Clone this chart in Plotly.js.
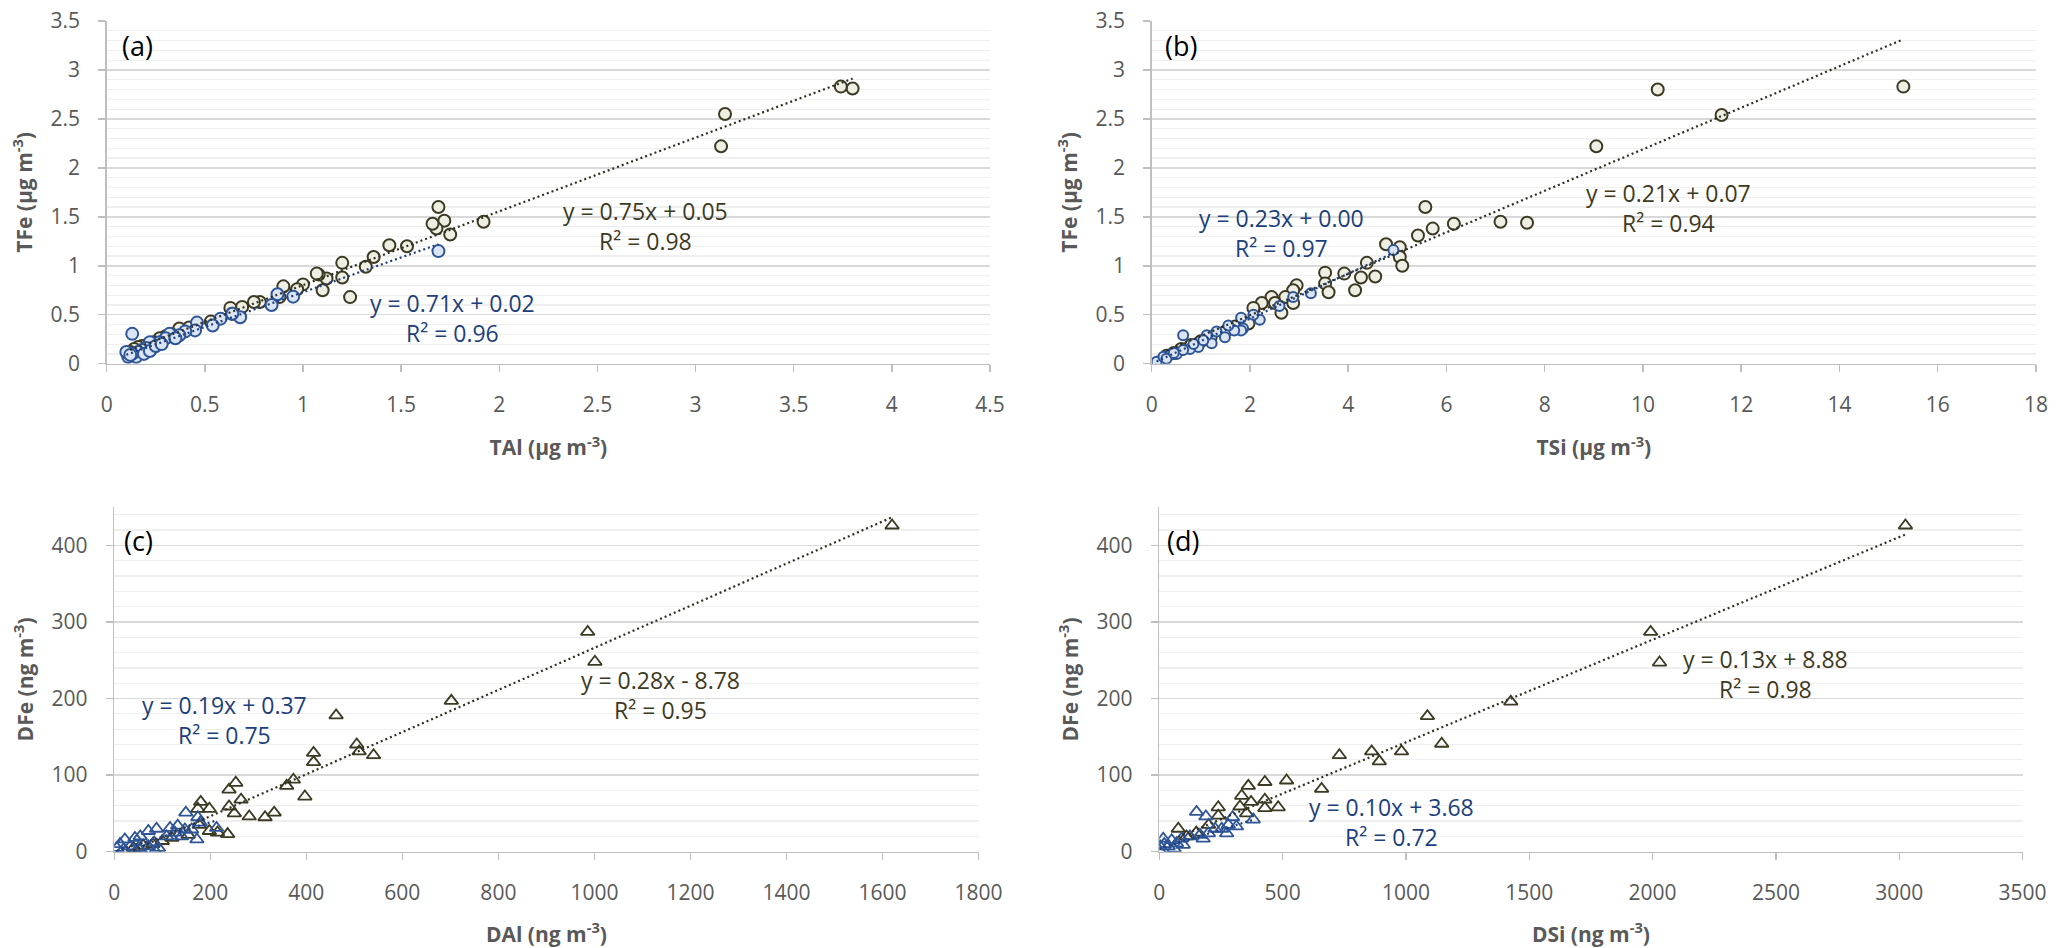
<!DOCTYPE html>
<html>
<head>
<meta charset="utf-8">
<script src="https://cdn.plot.ly/plotly-3.0.1.min.js"></script>
<style>html,body{margin:0;padding:0;background:#fff;}#chart{width:2067px;height:948px;}</style>
</head>
<body>
<div id="chart"></div>
<script>
// ---------- Data ----------
// Panel (a): TAl vs TFe (µg m-3)
const aBeigeX = [3.80,3.74,3.15,3.13,1.92,1.75,1.72,1.69,1.68,1.66,1.53,1.44,1.36,1.32,1.24,1.20,1.20,1.12,1.10,1.08,1.07,1.00,0.97,0.90,0.88,0.78,0.75,0.69,0.63,0.64,0.53,0.45,0.42,0.37,0.33,0.30,0.27,0.24,0.21,0.18,0.16,0.14,0.12];
const aBeigeY = [2.81,2.83,2.55,2.22,1.45,1.32,1.46,1.60,1.38,1.43,1.20,1.21,1.09,0.99,0.68,1.03,0.88,0.87,0.75,0.91,0.92,0.81,0.76,0.79,0.68,0.63,0.63,0.58,0.57,0.51,0.43,0.38,0.37,0.36,0.30,0.28,0.26,0.22,0.20,0.18,0.17,0.15,0.12];
const aBlueX = [1.69,0.95,0.87,0.84,0.68,0.64,0.58,0.54,0.46,0.45,0.40,0.37,0.32,0.30,0.27,0.24,0.22,0.20,0.18,0.16,0.13,0.15,0.13,0.11,0.10,0.12,0.19,0.22,0.25,0.28,0.35];
const aBlueY = [1.15,0.685,0.71,0.60,0.475,0.51,0.46,0.39,0.42,0.34,0.33,0.29,0.305,0.26,0.22,0.17,0.22,0.16,0.14,0.12,0.305,0.07,0.10,0.07,0.12,0.09,0.10,0.13,0.18,0.20,0.26];

// Panel (b): TSi vs TFe (µg m-3)
const bBeigeX = [15.3,10.3,11.6,9.05,5.57,7.1,7.64,6.15,5.72,5.42,4.77,5.05,5.05,5.1,4.38,3.92,3.53,4.26,4.55,3.53,3.6,4.14,2.95,2.88,2.72,2.88,2.44,2.51,2.64,2.24,2.07,1.97,1.7,1.5,1.2,1.0,0.8,0.6,0.45,0.3];
const bBeigeY = [2.83,2.80,2.54,2.22,1.60,1.45,1.44,1.43,1.38,1.31,1.22,1.19,1.09,1.00,1.03,0.92,0.93,0.88,0.89,0.82,0.73,0.75,0.80,0.75,0.68,0.62,0.68,0.62,0.52,0.62,0.57,0.41,0.38,0.33,0.27,0.23,0.19,0.15,0.11,0.08];
const bBlueX = [4.92,3.24,2.88,2.6,2.2,2.07,1.82,1.86,1.82,1.68,1.56,1.49,1.32,1.22,1.12,0.64,0.95,0.78,0.51,0.37,0.17,0.10,0.24,0.64,0.30,0.45,0.85,1.05];
const bBlueY = [1.16,0.72,0.68,0.59,0.45,0.50,0.47,0.36,0.34,0.34,0.39,0.27,0.33,0.21,0.29,0.29,0.17,0.15,0.10,0.09,0.03,0.02,0.07,0.14,0.05,0.11,0.20,0.24];

// Panel (c): DAl vs DFe (ng m-3)
const cBeigeX = [1620,986,1001,702,462,505,510,540,415,415,373,359,397,253,239,264,239,250,281,314,333,180,198,174,236,215,198,177,154,120,100,80,60,40];
const cBeigeY = [426,287,248,197,178,140,131,126,129,117,94,86,72,90,81,68,59,50,46,45,51,65,56,56,23,25,27,35,22,18,14,10,8,5];
const cBlueX = [149,174,179,213,172,132,116,88,71,54,43,22,12,5,33,50,71,92,83,109,126,147,161,140,54,19,85];
const cBlueY = [51,45,38,31,16,34,31,30,27,20,18,16,10,5,7,5,7,5,12,20,25,29,29,20,3,3,1];

// Panel (d): DSi vs DFe (ng m-3)
const dBeigeX = [3025,1992,2028,1425,1087,1145,982,861,892,730,658,516,428,361,334,428,372,482,428,327,354,239,239,77,150,200,110];
const dBeigeY = [426,287,247,196,177,141,131,131,118,126,82,93,91,86,73,68,65,58,57,59,50,58,47,30,25,35,20];
const dBlueX = [151,189,297,381,280,313,253,226,199,165,124,90,50,16,3,36,70,97,178,273,0,20,60];
const dBlueY = [52,46,45,42,35,33,30,30,24,22,20,17,15,17,7,7,11,9,17,24,2,10,4];

// Trendline coefficients [slope, intercept] and their printed labels
const fitBeige = [[0.753,0.05],[0.212,0.07],[0.275,-8.78],[0.134,8.88]];
const fitBlue  = [[0.71,0.02],[0.23,0.00],[0.19,0.37],[0.10,3.68]];
const eqBeige = ["y = 0.75x + 0.05<br>R² = 0.98","y = 0.21x + 0.07<br>R² = 0.94","y = 0.28x - 8.78<br>R² = 0.95","y = 0.13x + 8.88<br>R² = 0.98"];
const eqBlue  = ["y = 0.71x + 0.02<br>R² = 0.96","y = 0.23x + 0.00<br>R² = 0.97","y = 0.19x + 0.37<br>R² = 0.75","y = 0.10x + 3.68<br>R² = 0.72"];
const panelLabels = ["(a)","(b)","(c)","(d)"];
const xTitles = ["TAl (μg m<sup>-3</sup>)","TSi (μg m<sup>-3</sup>)","DAl (ng m<sup>-3</sup>)","DSi (ng m<sup>-3</sup>)"];
const yTitles = ["TFe (μg m<sup>-3</sup>)","TFe (μg m<sup>-3</sup>)","DFe (ng m<sup>-3</sup>)","DFe (ng m<sup>-3</sup>)"];

// ---------- Layout helpers ----------
const W = 2067, H = 948;
const px = v => v / W, py = v => 1 - v / H;
const FONT = '"Open Sans", "Noto Sans", sans-serif';
const BEIGE_LINE = '#3d3a24', BEIGE_FILL = '#eeeee2';
const BLUE_LINE = '#2e5597', BLUE_FILL = '#dbe4f2';
const BLUE_TEXT = '#203f7a', BEIGE_TEXT = '#3d3a24';

const panels = [
  {bx:aBeigeX, by:aBeigeY, ux:aBlueX, uy:aBlueY, sym:'circle', xr:[0,4.5], xd:0.5, yr:[0,3.5], yd:0.5, ym:0.1,
   dom:{x:[106.7,990], y:[21,363.7]}, eqB:[645,226], eqU:[452,318], lab:[137,46], bsize:12, usize:12},
  {bx:bBeigeX, by:bBeigeY, ux:bBlueX, uy:bBlueY, sym:'circle', xr:[0,18], xd:2, yr:[0,3.5], yd:0.5, ym:0.1,
   dom:{x:[1151.7,2036], y:[21,363.7]}, eqB:[1668,208], eqU:[1281,233], lab:[1181,46], bsize:12, usize:10},
  {bx:cBeigeX, by:cBeigeY, ux:cBlueX, uy:cBlueY, sym:'triangle-up-open', xr:[0,1800], xd:200, yr:[0,450], yd:100, ym:20,
   dom:{x:[114.3,978.5], y:[507.1,851.7]}, eqB:[660,695], eqU:[224,720], lab:[138,540], bsize:12, usize:12},
  {bx:dBeigeX, by:dBeigeY, ux:dBlueX, uy:dBlueY, sym:'triangle-up-open', xr:[0,3500], xd:500, yr:[0,450], yd:100, ym:20,
   dom:{x:[1159.3,2022.6], y:[507.1,851.7]}, eqB:[1765,674], eqU:[1391,822], lab:[1183,540], bsize:12, usize:12}
];

const traces = [];
const layout = {
  width: W, height: H,
  margin: {l:0, r:0, t:0, b:0},
  paper_bgcolor: '#ffffff', plot_bgcolor: '#ffffff',
  showlegend: false,
  font: {family: FONT, color: '#595959', size: 21},
  annotations: []
};

panels.forEach((p, i) => {
  const n = i === 0 ? '' : String(i + 1);
  const xa = 'x' + n, ya = 'y' + n;
  const open = p.sym.indexOf('open') >= 0;
  // markers
  traces.push({
    type: 'scatter', mode: 'markers', x: p.bx, y: p.by, xaxis: xa, yaxis: ya,
    marker: open ? {symbol: p.sym, size: p.bsize, color: BEIGE_LINE, line: {width: 1.8, color: BEIGE_LINE}}
                 : {symbol: p.sym, size: p.bsize, color: BEIGE_FILL, line: {width: 2, color: BEIGE_LINE}},
    hoverinfo: 'x+y'
  });
  traces.push({
    type: 'scatter', mode: 'markers', x: p.ux, y: p.uy, xaxis: xa, yaxis: ya,
    marker: open ? {symbol: p.sym, size: p.usize, color: BLUE_LINE, line: {width: 1.8, color: BLUE_LINE}}
                 : {symbol: p.sym, size: p.usize, color: BLUE_FILL, line: {width: 2, color: BLUE_LINE}},
    hoverinfo: 'x+y'
  });
  // trendlines through the library's axes
  const bmin = Math.min(...p.bx), bmax = Math.max(...p.bx);
  const umin = Math.min(...p.ux), umax = Math.max(...p.ux);
  const fb = fitBeige[i], fu = fitBlue[i];
  traces.push({
    type: 'scatter', mode: 'lines', xaxis: xa, yaxis: ya, hoverinfo: 'skip',
    x: [bmin, bmax], y: [fb[0]*bmin + fb[1], fb[0]*bmax + fb[1]],
    line: {color: '#2f2f22', width: 2.2, dash: '2px,3px'}
  });
  traces.push({
    type: 'scatter', mode: 'lines', xaxis: xa, yaxis: ya, hoverinfo: 'skip',
    x: [umin, umax], y: [fu[0]*umin + fu[1], fu[0]*umax + fu[1]],
    line: {color: '#1f3f7f', width: 2.2, dash: '2px,3px'}
  });

  layout['xaxis' + n] = {
    domain: [px(p.dom.x[0]), px(p.dom.x[1])], anchor: ya,
    range: p.xr, dtick: p.xd, tick0: 0,
    showgrid: false, zeroline: false,
    showline: true, linecolor: '#bfbfbf', linewidth: 1.5,
    ticks: 'outside', ticklen: 7, tickcolor: '#bfbfbf', tickwidth: 1.5,
    ticklabelstandoff: 15,
    tickfont: {family: FONT, size: 21, color: '#595959'},
    title: {text: '<b>' + xTitles[i] + '</b>', standoff: 23, font: {family: FONT, size: 21, color: '#595959'}},
    fixedrange: true
  };
  layout['yaxis' + n] = {
    domain: [py(p.dom.y[1]), py(p.dom.y[0])], anchor: xa,
    range: p.yr, dtick: p.yd, tick0: 0,
    showgrid: true, gridcolor: '#d9d9d9', gridwidth: 1.5,
    minor: {dtick: p.ym, showgrid: true, gridcolor: '#efefef', gridwidth: 1.2},
    zeroline: false,
    showline: true, linecolor: '#bfbfbf', linewidth: 1.5,
    ticks: 'outside', ticklen: 7, tickcolor: '#bfbfbf', tickwidth: 1.5,
    ticklabelstandoff: 14,
    tickfont: {family: FONT, size: 21, color: '#595959'},
    title: {text: '<b>' + yTitles[i] + '</b>', standoff: 12, font: {family: FONT, size: 21, color: '#595959'}},
    fixedrange: true
  };

  layout.annotations.push({
    xref: 'paper', yref: 'paper', x: px(p.lab[0]), y: py(p.lab[1]),
    text: panelLabels[i], showarrow: false, xanchor: 'center', yanchor: 'middle',
    font: {family: FONT, size: 27, color: '#000000'}
  });
  layout.annotations.push({
    xref: 'paper', yref: 'paper', x: px(p.eqB[0]), y: py(p.eqB[1]),
    text: eqBeige[i], showarrow: false, xanchor: 'center', yanchor: 'middle', align: 'center',
    font: {family: FONT, size: 23, color: BEIGE_TEXT}
  });
  layout.annotations.push({
    xref: 'paper', yref: 'paper', x: px(p.eqU[0]), y: py(p.eqU[1]),
    text: eqBlue[i], showarrow: false, xanchor: 'center', yanchor: 'middle', align: 'center',
    font: {family: FONT, size: 23, color: BLUE_TEXT}
  });
});

Plotly.newPlot('chart', traces, layout, {displayModeBar: false, staticPlot: true});
</script>
</body>
</html>
